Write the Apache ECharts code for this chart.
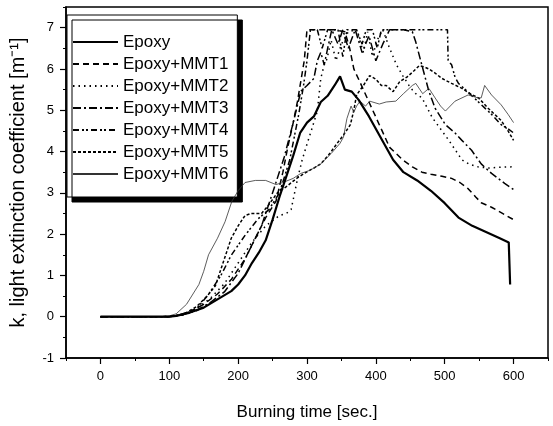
<!DOCTYPE html>
<html><head><meta charset="utf-8">
<script src="https://cdn.jsdelivr.net/npm/echarts@6/dist/echarts.min.js"></script>
<style>html,body{margin:0;padding:0;background:#fff}#c{width:553px;height:426px}</style>
</head><body><div id="c"></div>
<script>
const seriesNames = ['Epoxy','Epoxy+MMT1','Epoxy+MMT2','Epoxy+MMT3','Epoxy+MMT4','Epoxy+MMT5','Epoxy+MMT6'];
const xLabels = [0,100,200,300,400,500,600];
const yLabels = [-1,0,1,2,3,4,5,6,7];

const epoxy = [[0,0],[100,0],[110,0.02],[130,0.1],[150,0.22],[170,0.42],[190,0.62],[200,0.78],[210,1.0],[220,1.3],[230,1.55],[240,1.85],[250,2.35],[260,2.9],[270,3.4],[280,3.9],[290,4.45],[300,4.7],[310,4.85],[320,5.2],[330,5.35],[340,5.6],[348,5.82],[355,5.5],[365,5.45],[375,5.25],[390,4.85],[410,4.25],[425,3.8],[440,3.5],[460,3.3],[480,3.05],[500,2.75],[520,2.4],[540,2.2],[560,2.05],[580,1.9],[593,1.8],[595,0.78]];
const mmt1 = [[0,0],[90,0],[110,0.03],[130,0.12],[150,0.3],[170,0.55],[190,0.9],[210,1.4],[225,1.9],[240,2.4],[255,2.8],[265,3.5],[272,4.1],[280,4.7],[286,5.2],[292,5.8],[296,6.2],[300,6.95],[320,6.95],[340,6.95],[355,6.9],[362,6.5],[368,6.0],[375,5.75],[390,5.2],[405,4.65],[420,4.1],[439,3.8],[453,3.63],[467,3.5],[480,3.45],[496,3.4],[510,3.35],[522,3.25],[534,3.1],[545,2.9],[553,2.76],[568,2.65],[582,2.52],[600,2.35]];
const mmt2 = [[0,0],[100,0],[120,0.05],[140,0.2],[160,0.45],[180,0.8],[200,1.3],[220,1.8],[240,2.2],[260,2.45],[270,2.5],[277,2.6],[286,3.32],[293,3.8],[300,4.18],[308,4.6],[315,4.98],[320,5.77],[325,6.1],[329,6.24],[335,6.7],[342,6.2],[350,6.6],[360,6.9],[372,6.95],[382,6.4],[388,6.9],[395,6.3],[402,6.7],[410,6.95],[420,6.5],[430,6.1],[439,5.84],[450,5.55],[458,5.4],[467,5.3],[482,4.82],[496,4.5],[506,4.27],[525,3.8],[535,3.7],[550,3.62],[565,3.6],[580,3.62],[600,3.63]];
const mmt3 = [[0,0],[100,0],[120,0.05],[140,0.15],[160,0.35],[180,0.6],[200,1.05],[219,1.7],[234,2.2],[242,2.6],[252,3.1],[267,3.87],[280,4.7],[291,5.46],[300,5.6],[310,5.77],[315,6.2],[320,6.4],[325,6.1],[330,6.5],[336,6.95],[345,6.6],[352,6.95],[360,6.5],[370,6.95],[380,6.4],[390,6.8],[400,6.2],[410,6.6],[420,6.95],[440,6.95],[453,6.9],[458,6.65],[467,6.08],[477,5.46],[486,5.05],[501,4.65],[515,4.45],[525,4.27],[539,4.03],[553,3.7],[568,3.47],[587,3.23],[600,3.08]];
const mmt4 = [[0,0],[100,0],[120,0.05],[140,0.2],[157,0.54],[175,1.0],[190,1.49],[210,1.97],[229,2.37],[245,2.6],[260,3.0],[275,3.8],[288,4.9],[295,5.6],[300,6.2],[305,6.95],[315,6.95],[322,6.5],[330,6.95],[345,6.95],[352,6.3],[358,6.95],[372,6.95],[380,6.6],[386,6.95],[395,6.95],[402,6.5],[408,6.95],[460,6.95],[504,6.95],[505,6.2],[510,6.1],[515,5.8],[520,5.65],[530,5.5],[549,5.2],[568,4.9],[582,4.65],[592,4.55],[600,4.45]];
const mmt5 = [[0,0],[100,0],[120,0.05],[140,0.25],[155,0.5],[167,0.75],[180,1.4],[190,1.9],[200,2.2],[210,2.45],[219,2.5],[234,2.5],[243,2.68],[257,3.0],[270,3.15],[285,3.35],[296,3.47],[310,3.6],[320,3.7],[333,3.95],[343,4.18],[353,4.4],[363,4.65],[368,5.0],[372,5.37],[382,5.6],[391,5.84],[400,5.75],[408,5.6],[415,5.6],[425,5.45],[435,5.7],[445,5.8],[455,5.95],[463,6.08],[470,6.05],[477,6.0],[486,5.9],[496,5.77],[510,5.65],[525,5.53],[537,5.4],[549,5.3],[563,5.05],[582,4.75],[592,4.5],[600,4.27]];
const mmt6 = [[0,0],[90,0],[100,0.02],[110,0.07],[125,0.3],[143,0.78],[150,1.1],[157,1.5],[170,1.9],[181,2.3],[191,2.8],[200,3.05],[210,3.25],[225,3.3],[240,3.3],[255,3.2],[265,3.25],[280,3.35],[291,3.47],[305,3.55],[320,3.7],[335,3.95],[348,4.2],[353,4.35],[358,4.8],[364,5.1],[368,4.95],[372,5.1],[377,5.22],[385,5.1],[391,5.22],[405,5.15],[415,5.2],[429,5.22],[440,5.4],[453,5.6],[458,5.65],[468,5.4],[477,5.53],[486,5.3],[494,5.1],[501,4.98],[515,5.22],[534,5.37],[548,5.3],[553,5.3],[558,5.6],[568,5.37],[582,5.13],[592,4.9],[600,4.7]];

const allData = [epoxy, mmt1, mmt2, mmt3, mmt4, mmt5, mmt6];
const styles = [
  {width:2.2, type:'solid', color:'#000'},
  {width:1.5, type:[6,4], color:'#000'},
  {width:1.5, type:[1.5,4], color:'#000'},
  {width:1.5, type:[8,3,2,3], color:'#000'},
  {width:1.5, type:[6,3,2,2,2,3], color:'#000'},
  {width:1.5, type:[3,2], color:'#000'},
  {width:0.8, type:'solid', color:'#333'}
];

const font = 'Liberation Sans, Arial, Helvetica, sans-serif';
const chart = echarts.init(document.getElementById('c'), null, {renderer:'canvas'});
chart.setOption({
  animation:false,
  backgroundColor:'#fff',
  grid:{left:58,right:5,top:7,bottom:60,show:true,borderColor:'#000',borderWidth:1.5,backgroundColor:'transparent'},
  legend:{
    orient:'vertical', left:67, top:15,
    data:seriesNames,
    itemWidth:45, itemHeight:14, itemGap:4,
    padding:[18,9,14,5],
    textStyle:{fontFamily:font,fontSize:17,color:'#000',lineHeight:18},
    itemStyle:{opacity:0},
    backgroundColor:'#fff', borderColor:'#000', borderWidth:1,
    shadowColor:'#000', shadowBlur:0, shadowOffsetX:5, shadowOffsetY:5
  },
  xAxis:[{
    type:'value', min:-50, max:650, interval:50,
    name:'Burning time [sec.]', nameLocation:'middle', nameGap:46,
    nameTextStyle:{fontFamily:font,fontSize:17,color:'#000'},
    axisLine:{show:true,onZero:false,lineStyle:{color:'#000',width:1.5}},
    axisTick:{show:true,length:6,customValues:xLabels,lineStyle:{color:'#000',width:1.2}},
    axisLabel:{customValues:xLabels,margin:12,fontFamily:font,fontSize:13,color:'#000'},
    splitLine:{show:false}
  },{
    type:'value', min:-50, max:650, interval:50, position:'bottom',
    axisLine:{show:false,onZero:false}, axisLabel:{show:false}, splitLine:{show:false},
    axisTick:{show:true,length:3,lineStyle:{color:'#000',width:1}}
  }],
  yAxis:[{
    type:'value', min:-1, max:7.5, interval:0.5,
    name:'k, light extinction coefficient [m\u207B\u00B9]', nameLocation:'middle', nameGap:38,
    nameTextStyle:{fontFamily:font,fontSize:20,color:'#000'},
    axisLine:{show:true,onZero:false,lineStyle:{color:'#000',width:1.5}},
    axisTick:{show:true,length:6,customValues:yLabels,lineStyle:{color:'#000',width:1.2}},
    axisLabel:{customValues:yLabels,margin:12,fontFamily:font,fontSize:13,color:'#000'},
    splitLine:{show:false}
  },{
    type:'value', min:-1, max:7.5, interval:0.5, position:'left',
    axisLine:{show:false,onZero:false}, axisLabel:{show:false}, splitLine:{show:false},
    axisTick:{show:true,length:3,lineStyle:{color:'#000',width:1}}
  }],
  series: allData.map((d,i)=>({
    name:seriesNames[i], type:'line', data:d, showSymbol:false, symbol:'none',
    xAxisIndex:0, yAxisIndex:0,
    lineStyle:styles[i], itemStyle:{color:styles[i].color},
    z: i===0 ? 10 : 5
  }))
});
</script></body></html>
